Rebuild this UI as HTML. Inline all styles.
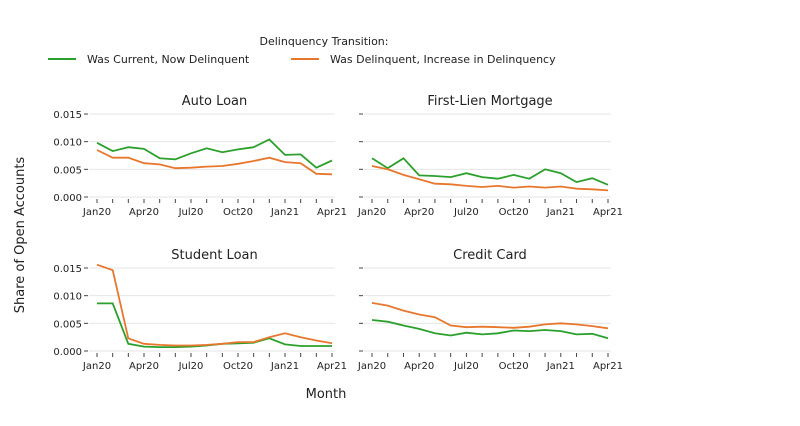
<!DOCTYPE html>
<html><head><meta charset="utf-8"><style>
body{margin:0;background:#fff;width:800px;height:421px;overflow:hidden}
svg text{font-family:"DejaVu Sans","Liberation Sans",sans-serif;fill:#222}
</style></head><body>
<svg id="s" width="800" height="421" xmlns="http://www.w3.org/2000/svg">
<text x="324" y="45" font-size="11" text-anchor="middle">Delinquency Transition:</text>
<line x1="48" y1="59" x2="76" y2="59" stroke="#2ca02c" stroke-width="2"/>
<text x="87" y="63" font-size="11">Was Current, Now Delinquent</text>
<line x1="291" y1="59" x2="319" y2="59" stroke="#e8772e" stroke-width="2"/>
<text x="330" y="63" font-size="11">Was Delinquent, Increase in Delinquency</text>
<text x="24" y="235" font-size="13" text-anchor="middle" transform="rotate(-90 24 235)">Share of Open Accounts</text>
<text x="326" y="398" font-size="13" text-anchor="middle">Month</text>
</svg>
<script>
const s=document.getElementById('s');const NS='http://www.w3.org/2000/svg';
function el(t,a,txt){const e=document.createElementNS(NS,t);for(const k in a)e.setAttribute(k,a[k]);if(txt)e.textContent=txt;s.appendChild(e);return e;}
const panels=[
{t:'Auto Loan',x0:97,x1:332,yt:114,yb:197,yl:true,
g:[.0098,.0083,.0090,.0087,.0070,.0068,.0079,.0088,.0081,.0086,.0090,.0104,.0076,.0077,.0053,.0066],
o:[.0085,.0071,.0071,.0061,.0059,.0052,.0053,.0055,.0056,.0060,.0065,.0071,.0063,.0061,.0042,.0041]},
{t:'First-Lien Mortgage',x0:372,x1:608,yt:114,yb:197,yl:false,
g:[.0070,.0052,.0070,.0039,.0038,.0036,.0043,.0036,.0033,.0040,.0033,.0050,.0043,.0027,.0034,.0022],
o:[.0056,.0050,.0040,.0032,.0024,.0023,.0020,.0018,.0020,.0017,.0019,.0017,.0019,.0015,.0014,.0012]},
{t:'Student Loan',x0:97,x1:332,yt:268,yb:351,yl:true,
g:[.0086,.0086,.0013,.0008,.0007,.0007,.0008,.0010,.0013,.0014,.0015,.0023,.0012,.0009,.0009,.0009],
o:[.0156,.0146,.0023,.0013,.0011,.0010,.0010,.0011,.0013,.0016,.0016,.0025,.0032,.0025,.0019,.0014]},
{t:'Credit Card',x0:372,x1:608,yt:268,yb:351,yl:false,
g:[.0056,.0053,.0046,.0040,.0032,.0028,.0033,.0030,.0032,.0037,.0036,.0038,.0036,.0030,.0031,.0023],
o:[.0087,.0082,.0073,.0066,.0061,.0046,.0043,.0044,.0043,.0042,.0044,.0048,.0050,.0048,.0045,.0041]}];
const labs=['Jan20','Apr20','Jul20','Oct20','Jan21','Apr21'];
for(const p of panels){
 const X=i=>p.x0+(p.x1-p.x0)*i/15, Y=v=>p.yb-(p.yb-p.yt)*v/0.015;
 el('text',{x:(p.x0+p.x1)/2,y:p.yt-9,'font-size':13,'text-anchor':'middle'},p.t);
 for(let k=0;k<4;k++){const y=Y(k*0.005);
  el('line',{x1:p.x0-8,x2:p.x1+3,y1:y,y2:y,stroke:'#e6e6e6','stroke-width':1});
  if(p.yl){el('line',{x1:p.x0-13,x2:p.x0-9,y1:y,y2:y,stroke:'#444'});
  el('text',{x:p.x0-15,y:y+4,'font-size':10,'text-anchor':'end'},(k*0.005).toFixed(3));}
  else el('line',{x1:p.x0-13,x2:p.x0-9,y1:y,y2:y,stroke:'#444'});}
 for(let i=0;i<16;i++){const x=X(i);el('line',{x1:x,x2:x,y1:p.yb+2,y2:p.yb+6,stroke:'#444'});
  if(i%3==0)el('text',{x:x,y:p.yb+18,'font-size':10,'text-anchor':'middle'},labs[i/3]);}
 for(const [d,c] of [[p.g,'#2ca02c'],[p.o,'#e8772e']])
  el('polyline',{points:d.map((v,i)=>X(i).toFixed(1)+','+Y(v).toFixed(1)).join(' '),fill:'none',stroke:c,'stroke-width':1.8});
}
</script>
</body></html>
